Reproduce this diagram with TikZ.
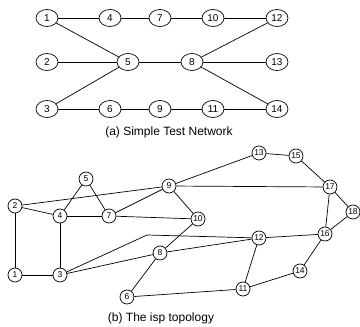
\documentclass[tikz,border=0pt]{standalone}
\usepackage{fontspec}
\setmainfont{Liberation Sans}
\usetikzlibrary{shapes.geometric}
\begin{document}
\begin{tikzpicture}
[x=1pt,y=-1pt,
  lineDecorate/.style={-,line width=0.7pt},%
  nodeDecorate/.style={shape=ellipse,inner sep=0pt,draw,line width=0.7pt,
    minimum width=22pt,minimum height=17pt,font=\fontsize{10}{12}\selectfont},%
  smallDecorate/.style={shape=circle,inner sep=0pt,draw,line width=0.7pt,
    minimum size=14pt,font=\fontsize{8.5}{10}\selectfont},%
  captionDecorate/.style={font=\fontsize{12}{14}\selectfont}]
\useasboundingbox (0,0) rectangle (360,327);
%% (a) nodes
\foreach \nodename/\x/\y in {
  1/47/18, 4/110/18, 7/160/18, 10/213/18, 12/277/18,
  2/47/62, 5/128/62, 8/192/62, 13/277/62,
  3/47/109, 6/110/109, 9/160/109, 11/213/109, 14/277/109}
{
  \node (a\nodename) at (\x,\y) [nodeDecorate] {\nodename};
}
%% (a) edges
\path
\foreach \startnode/\endnode in {1/4, 4/7, 7/10, 10/12, 1/5, 2/5, 3/5, 5/8,
  8/12, 8/13, 8/14, 3/6, 6/9, 9/11, 11/14}
{
  (a\startnode) edge[lineDecorate] (a\endnode)
};
\node (capa) at (169,132) [captionDecorate] {(a) Simple Test Network};
%% (b) nodes
\foreach \nodename/\x/\y in {
  1/15/275, 2/15/206, 3/60/275, 4/60/216, 5/86/179, 6/127/297,
  7/109/216, 8/160/253, 9/169/186, 10/198/219, 11/243/289, 12/259/238,
  13/259/153, 14/300/271, 15/296/156, 16/325/234, 17/330/187, 18/353/212}
{
  \node (b\nodename) at (\x,\y) [smallDecorate] {\nodename};
}
\coordinate (bend) at (147,235);
%% (b) edges
\path
\foreach \startnode/\endnode in {1/2, 1/3, 3/4, 2/4, 2/9, 4/5, 5/7, 4/7,
  7/9, 7/10, 9/10, 8/10, 3/8, 8/12, 6/8, 6/11, 11/12, 11/14, 14/16,
  12/16, 16/17, 16/18, 17/18, 9/17, 9/13, 13/15, 15/17}
{
  (b\startnode) edge[lineDecorate] (b\endnode)
};
\draw[lineDecorate] (b3) -- (bend) -- (b12);
\node (capb) at (161,318) [captionDecorate] {(b) The isp topology};
\end{tikzpicture}
\end{document}
